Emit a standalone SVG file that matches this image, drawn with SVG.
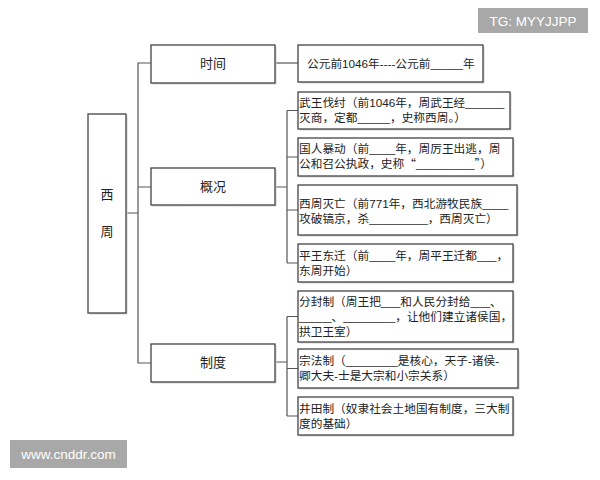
<svg xmlns="http://www.w3.org/2000/svg" width="600" height="480" viewBox="0 0 600 480">
<style>
.box{fill:#fff;stroke:#444;stroke-width:1.3}
.sh{fill:#d4d4d4;stroke:none}
.t{font-family:"Liberation Sans","Noto Sans CJK SC",sans-serif;font-size:11.7px;fill:#222}
.h{font-family:"Noto Sans CJK SC",sans-serif;font-size:13px;fill:#222;text-anchor:middle}
.cj{font-family:"Noto Sans CJK SC",sans-serif}
.wm{fill:#a8a8a8}
.wt{font-family:"Liberation Sans",sans-serif;font-size:13.5px;fill:#fff;text-anchor:middle}
.ln{fill:none;stroke:#555;stroke-width:1.2}
</style>
<rect width="600" height="480" fill="#fff"/>
<g id="connectors">
<path class="ln" d="M126,213H138V63H151M138,213V187H151M138,213V363H151"/>
<path class="ln" d="M275,63H298"/>
<path class="ln" d="M275,187H287M287,110.5V263M287,110.5H298M287,157H298M287,210H298M287,263H298"/>
<path class="ln" d="M275,362H287M287,316.5V416M287,316.5H298M287,368.5H298M287,416H298"/>
</g>
<g id="root">
<rect class="sh" x="89.5" y="115.5" width="38" height="199"/>
<rect class="box" x="88" y="114" width="38" height="199"/>
<text class="h" x="107" y="199">西</text>
<text class="h" x="107" y="236">周</text>
</g>
<g id="n-time">
<rect class="sh" x="152.5" y="46.5" width="124" height="38"/>
<rect class="box" x="151" y="45" width="124" height="38"/>
<text class="h" x="213" y="68">时间</text>
</g>
<g id="n-overview">
<rect class="sh" x="152.5" y="169.5" width="124" height="37"/>
<rect class="box" x="151" y="168" width="124" height="37"/>
<text class="h" x="213" y="191">概况</text>
</g>
<g id="n-system">
<rect class="sh" x="152.5" y="345.5" width="124" height="38"/>
<rect class="box" x="151" y="344" width="124" height="38"/>
<text class="h" x="213" y="367">制度</text>
</g>
<g id="d-time">
<rect class="sh" x="299.5" y="46.5" width="185" height="37"/>
<rect class="box" x="298" y="45" width="185" height="37"/>
<text class="t" x="307" y="67.5">公元前1046年----公元前_____年</text>
</g>
<g id="d1">
<rect class="sh" x="299.5" y="93.5" width="212" height="37"/>
<rect class="box" x="298" y="92" width="212" height="37"/>
<text class="t" x="299" y="107">武王伐纣（前1046年，周武王经______</text>
<text class="t" x="299" y="122">灭商，定都_____，史称西周。）</text>
</g>
<g id="d2">
<rect class="sh" x="299.5" y="139.5" width="215" height="38"/>
<rect class="box" x="298" y="138" width="215" height="38"/>
<text class="t" x="299" y="153">国人暴动（前____年，周厉王出逃，周</text>
<text class="t" x="299" y="168">公和召公执政，史称<tspan class="cj">“</tspan>_________<tspan class="cj">”</tspan>）</text>
</g>
<g id="d3">
<rect class="sh" x="299.5" y="186.5" width="219" height="50"/>
<rect class="box" x="298" y="185" width="219" height="50"/>
<text class="t" x="299" y="207.5">西周灭亡（前771年，西北游牧民族____</text>
<text class="t" x="299" y="222.5">攻破镐京，杀_________，西周灭亡）</text>
</g>
<g id="d4">
<rect class="sh" x="299.5" y="245.5" width="215" height="38"/>
<rect class="box" x="298" y="244" width="215" height="38"/>
<text class="t" x="299" y="259.5">平王东迁（前____年，周平王迁都___，</text>
<text class="t" x="299" y="274.5">东周开始）</text>
</g>
<g id="d5">
<rect class="sh" x="299.5" y="292.5" width="215" height="51"/>
<rect class="box" x="298" y="291" width="215" height="51"/>
<text class="t" x="299" y="305.5">分封制（周王把___和人民分封给___、</text>
<text class="t" x="299" y="320.5">_____、________，让他们建立诸侯国，</text>
<text class="t" x="299" y="335.5">拱卫王室）</text>
</g>
<g id="d6">
<rect class="sh" x="299.5" y="350.5" width="220" height="39"/>
<rect class="box" x="298" y="349" width="220" height="39"/>
<text class="t" x="299" y="365">宗法制（________是核心，天子-诸侯-</text>
<text class="t" x="299" y="380">卿大夫-士是大宗和小宗关系）</text>
</g>
<g id="d7">
<rect class="sh" x="299.5" y="398.5" width="215" height="38"/>
<rect class="box" x="298" y="397" width="215" height="38"/>
<text class="t" x="299" y="412.5">井田制（奴隶社会土地国有制度，三大制</text>
<text class="t" x="299" y="427.5">度的基础）</text>
</g>
<g id="watermarks">
<rect class="wm" x="478" y="8" width="110" height="25"/>
<text class="wt" x="533" y="25.5">TG: MYYJJPP</text>
<rect class="wm" x="10" y="440" width="117" height="28"/>
<text class="wt" x="68.5" y="459">www.cnddr.com</text>
</g>
</svg>
